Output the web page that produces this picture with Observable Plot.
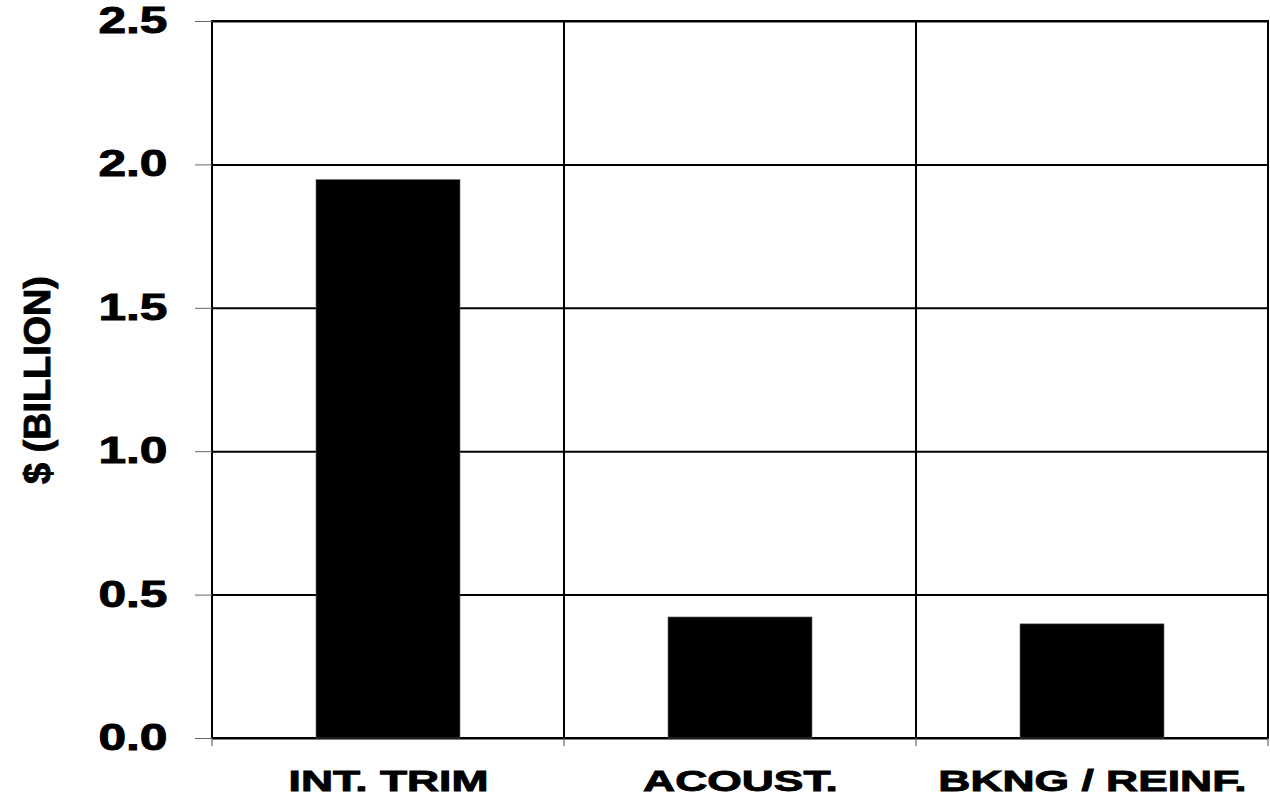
<!DOCTYPE html>
<html><head>
<meta charset="utf-8">
<script src="https://cdn.jsdelivr.net/npm/d3@7"></script>
<script src="https://cdn.jsdelivr.net/npm/@observablehq/plot@0.6"></script>
<style>
body{margin:0;background:#fff;}
#chart svg{display:block;}
</style>
</head><body><div id="chart"></div>
<script>
const categories = ["INT. TRIM", "ACOUST.", "BKNG / REINF."];
const values = [1.947, 0.422, 0.398];
const yTicks = [0, 0.5, 1.0, 1.5, 2.0, 2.5];
const yLabel = "$ (BILLION)";

const data = categories.map((c, i) => ({category: c, value: values[i]}));

function boundaryTicks(index, scales, values, dimensions) {
  const g = d3.create("svg:g").attr("aria-label", "boundary ticks");
  const x = scales.x, bw = x.bandwidth();
  const y0 = scales.y(0);
  const xs = categories.map(c => x(c)).concat([x(categories[categories.length - 1]) + bw]);
  for (const px of xs) {
    g.append("line").attr("x1", px).attr("x2", px).attr("y1", y0).attr("y2", y0 + 8)
      .attr("stroke", "#666").attr("stroke-width", 1.2);
  }
  return g.node();
}

const chart = Plot.plot({
  width: 1270,
  height: 801,
  marginLeft: 212,
  marginRight: 2,
  marginTop: 21,
  marginBottom: 63,
  style: {fontFamily: "'Liberation Sans', Arial, sans-serif", fontWeight: "bold", background: "#fff", color: "#000"},
  x: {domain: categories, padding: 0},
  y: {domain: [0, 2.5]},
  marks: [
    Plot.ruleY(yTicks, {stroke: "#000", strokeWidth: 2}),
    Plot.cell(categories, {x: d => d, fill: "none", stroke: "#000", strokeWidth: 2}),
    Plot.barY(data, {x: "category", y: "value", fill: "#000", stroke: "#666", strokeWidth: 0.6, insetLeft: 104, insetRight: 104}),
    Plot.axisY({ticks: yTicks, tickFormat: d3.format(".1f"), tickSize: 17, tickPadding: 28, fontSize: 36, label: null, stroke: "#666"}),
    Plot.axisX({tickSize: 0, tickPadding: 31, fontSize: 30, label: null}),
    boundaryTicks,
    Plot.text([yLabel], {frameAnchor: "left", textAnchor: "middle", rotate: -90, dx: -174, fontSize: 36, fontWeight: "bold", fill: "#000"})
  ]
});
document.getElementById("chart").appendChild(chart);

function stretch(selector, factor) {
  chart.querySelectorAll(selector).forEach(t => {
    const len = t.getComputedTextLength();
    t.setAttribute("textLength", (len * factor).toFixed(1));
    t.setAttribute("lengthAdjust", "spacingAndGlyphs");
    t.setAttribute("stroke", "#000");
    t.setAttribute("stroke-width", "0.9");
  });
}
stretch('g[aria-label="y-axis tick label"] text', 1.38);
stretch('g[aria-label="x-axis tick label"] text', 1.48);
stretch('g[aria-label="text"] text', 1.05);
</script>
</body></html>
